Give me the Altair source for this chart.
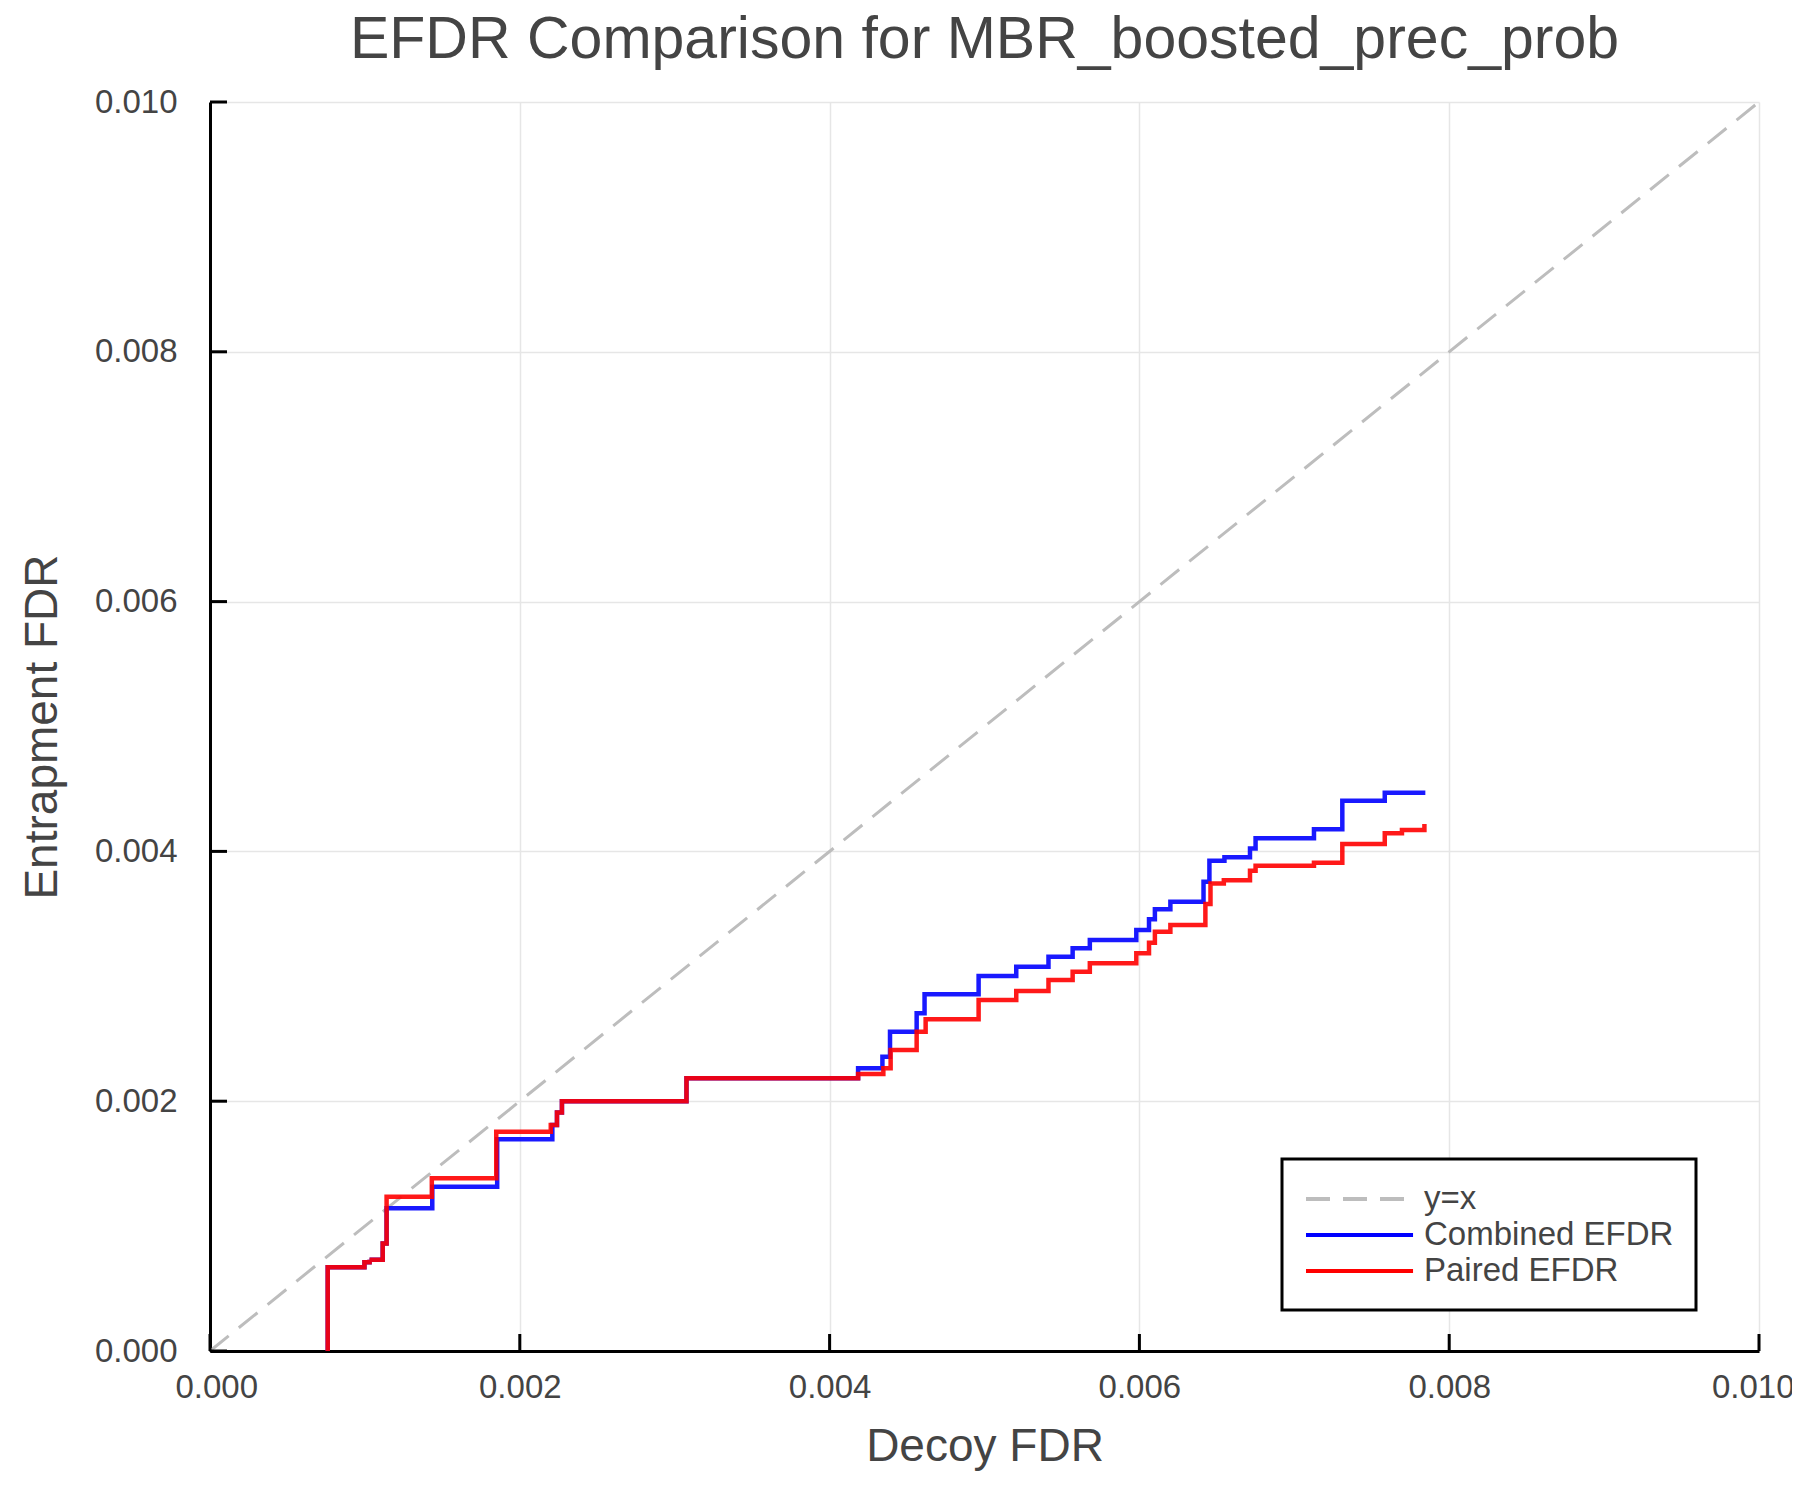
import altair as alt
import pandas as pd

# ---- data ----
x_comb = [0.00076, 0.00076, 0.000997, 0.00103, 0.001115, 0.00114, 0.001435, 0.001854,
          0.00221, 0.00224, 0.002272, 0.003076, 0.004184, 0.004341, 0.00439, 0.004562,
          0.004613, 0.004962, 0.005205, 0.005413, 0.005569, 0.00568, 0.00598, 0.006062,
          0.0061, 0.0062, 0.006414, 0.006452, 0.006549, 0.006714, 0.00675, 0.007127,
          0.00731, 0.007584, 0.007846]
y_comb = [0.0, 0.00067, 0.00071, 0.00073, 0.00086, 0.001142, 0.001316, 0.001695,
          0.00181, 0.00191, 0.002, 0.002183, 0.002263, 0.002356, 0.002557, 0.002704,
          0.002856, 0.003002, 0.003077, 0.003157, 0.003224, 0.00329, 0.00337, 0.003456,
          0.003536, 0.003597, 0.003757, 0.003925, 0.003953, 0.004024, 0.004105, 0.004177,
          0.004406, 0.00447, 0.00447]

x_pair = [0.00076, 0.00076, 0.000997, 0.00103, 0.001115, 0.00114, 0.001432, 0.001848,
          0.0022, 0.00224, 0.002272, 0.003076, 0.004184, 0.004347, 0.004394, 0.004562,
          0.00462, 0.004962, 0.005205, 0.005413, 0.005569, 0.00568, 0.00598, 0.006062,
          0.0061, 0.0062, 0.006426, 0.006459, 0.006545, 0.006714, 0.00675, 0.007127,
          0.00731, 0.007584, 0.007695, 0.00784]
y_pair = [0.0, 0.00067, 0.00071, 0.00073, 0.00086, 0.001235, 0.001383, 0.001756,
          0.00181, 0.00191, 0.002, 0.002183, 0.002218, 0.002263, 0.00241, 0.002557,
          0.002656, 0.00281, 0.002882, 0.00297, 0.003037, 0.003104, 0.003184, 0.003269,
          0.003357, 0.00341, 0.003579, 0.003742, 0.00377, 0.003846, 0.003885, 0.00391,
          0.00406, 0.004145, 0.004171, 0.00422]

diag_x = [0.0, 0.010]
diag_y = [0.0, 0.010]

tick_values = [0.0, 0.002, 0.004, 0.006, 0.008, 0.010]

series_names = ["y=x", "Combined EFDR", "Paired EFDR"]
series_colors = ["#BDBDBD", "#0000FF", "#FF0000"]
series_dashes = [[24, 13], [1, 0], [1, 0]]

FONT = "Liberation Sans"
TEXT = "#444444"
W, H = 1549, 1249

df_diag = pd.DataFrame({"x": diag_x, "y": diag_y, "series": series_names[0], "i": range(len(diag_x))})
df_comb = pd.DataFrame({"x": x_comb, "y": y_comb, "series": series_names[1], "i": range(len(x_comb))})
df_pair = pd.DataFrame({"x": x_pair, "y": y_pair, "series": series_names[2], "i": range(len(x_pair))})
df_ticks = pd.DataFrame({"t": tick_values})

xscale = alt.Scale(domain=[0, 0.010], nice=False, zero=False)
yscale = alt.Scale(domain=[0, 0.010], nice=False, zero=False)

xaxis = alt.Axis(values=tick_values, format=".3f", title="Decoy FDR", labelPadding=20,
                 titlePadding=20, labelFlush=True, labelFlushOffset=35, labelOverlap=False)
yaxis = alt.Axis(values=tick_values, format=".3f", title="Entrapment FDR", labelPadding=33,
                 titlePadding=28, labelOverlap=False)

# long legend stroke: custom path (unit coords scaled by sqrt(size)/2 = 16 px)
legend_symbol = "M-1,0H5.69"

color = alt.Color("series:N",
                  scale=alt.Scale(domain=series_names, range=series_colors),
                  legend=alt.Legend(title=None, orient="none", legendX=1072, legendY=1057,
                                    symbolType=legend_symbol, symbolSize=1024, symbolStrokeWidth=4,
                                    symbolFillColor="transparent",
                                    labelFontSize=33, labelFont=FONT, labelColor=TEXT,
                                    labelOffset=84, rowPadding=1, padding=22,
                                    strokeColor="black", fillColor="white",
                                    labelLimit=600))
dash = alt.StrokeDash("series:N",
                      scale=alt.Scale(domain=series_names, range=series_dashes),
                      legend=alt.Legend(title=None, orient="none", legendX=1072, legendY=1057))

diag = alt.Chart(df_diag).mark_line(strokeWidth=3).encode(
    x=alt.X("x:Q", scale=xscale, axis=xaxis),
    y=alt.Y("y:Q", scale=yscale, axis=yaxis),
    color=color, strokeDash=dash, order=alt.Order("i:Q"))

comb = alt.Chart(df_comb).mark_line(strokeWidth=4.5, interpolate="step-after", strokeOpacity=0.9).encode(
    x=alt.X("x:Q", scale=xscale), y=alt.Y("y:Q", scale=yscale),
    color=color, strokeDash=dash, order=alt.Order("i:Q"))

pair = alt.Chart(df_pair).mark_line(strokeWidth=4.5, interpolate="step-after", strokeOpacity=0.9).encode(
    x=alt.X("x:Q", scale=xscale), y=alt.Y("y:Q", scale=yscale),
    color=color, strokeDash=dash, order=alt.Order("i:Q"))

xticks = alt.Chart(df_ticks).mark_rule(color="black", strokeWidth=3).encode(
    x=alt.X("t:Q", scale=xscale), y=alt.value(H), y2=alt.value(H - 17))
yticks = alt.Chart(df_ticks).mark_rule(color="black", strokeWidth=3).encode(
    y=alt.Y("t:Q", scale=yscale), x=alt.value(0), x2=alt.value(17))

chart = alt.layer(diag, comb, pair, xticks, yticks).properties(
    width=W, height=H,
    title=alt.Title("EFDR Comparison for MBR_boosted_prec_prob", fontSize=59, font=FONT,
                    fontWeight="normal", color=TEXT, anchor="middle", offset=16),
    autosize=alt.AutoSizeParams(type="none"),
    padding={"left": 202, "top": 94, "right": 33, "bottom": 140},
).configure_view(stroke=None).configure_axis(
    domainColor="black", domainWidth=3, gridColor="#E6E6E6", gridWidth=1.5, ticks=False,
    labelFont=FONT, labelFontSize=33, labelColor=TEXT,
    titleFont=FONT, titleFontSize=46, titleFontWeight="normal", titleColor=TEXT,
).configure_legend(strokeWidth=3)

chart.save("out.html", embed_options={"renderer": "svg", "actions": False})
